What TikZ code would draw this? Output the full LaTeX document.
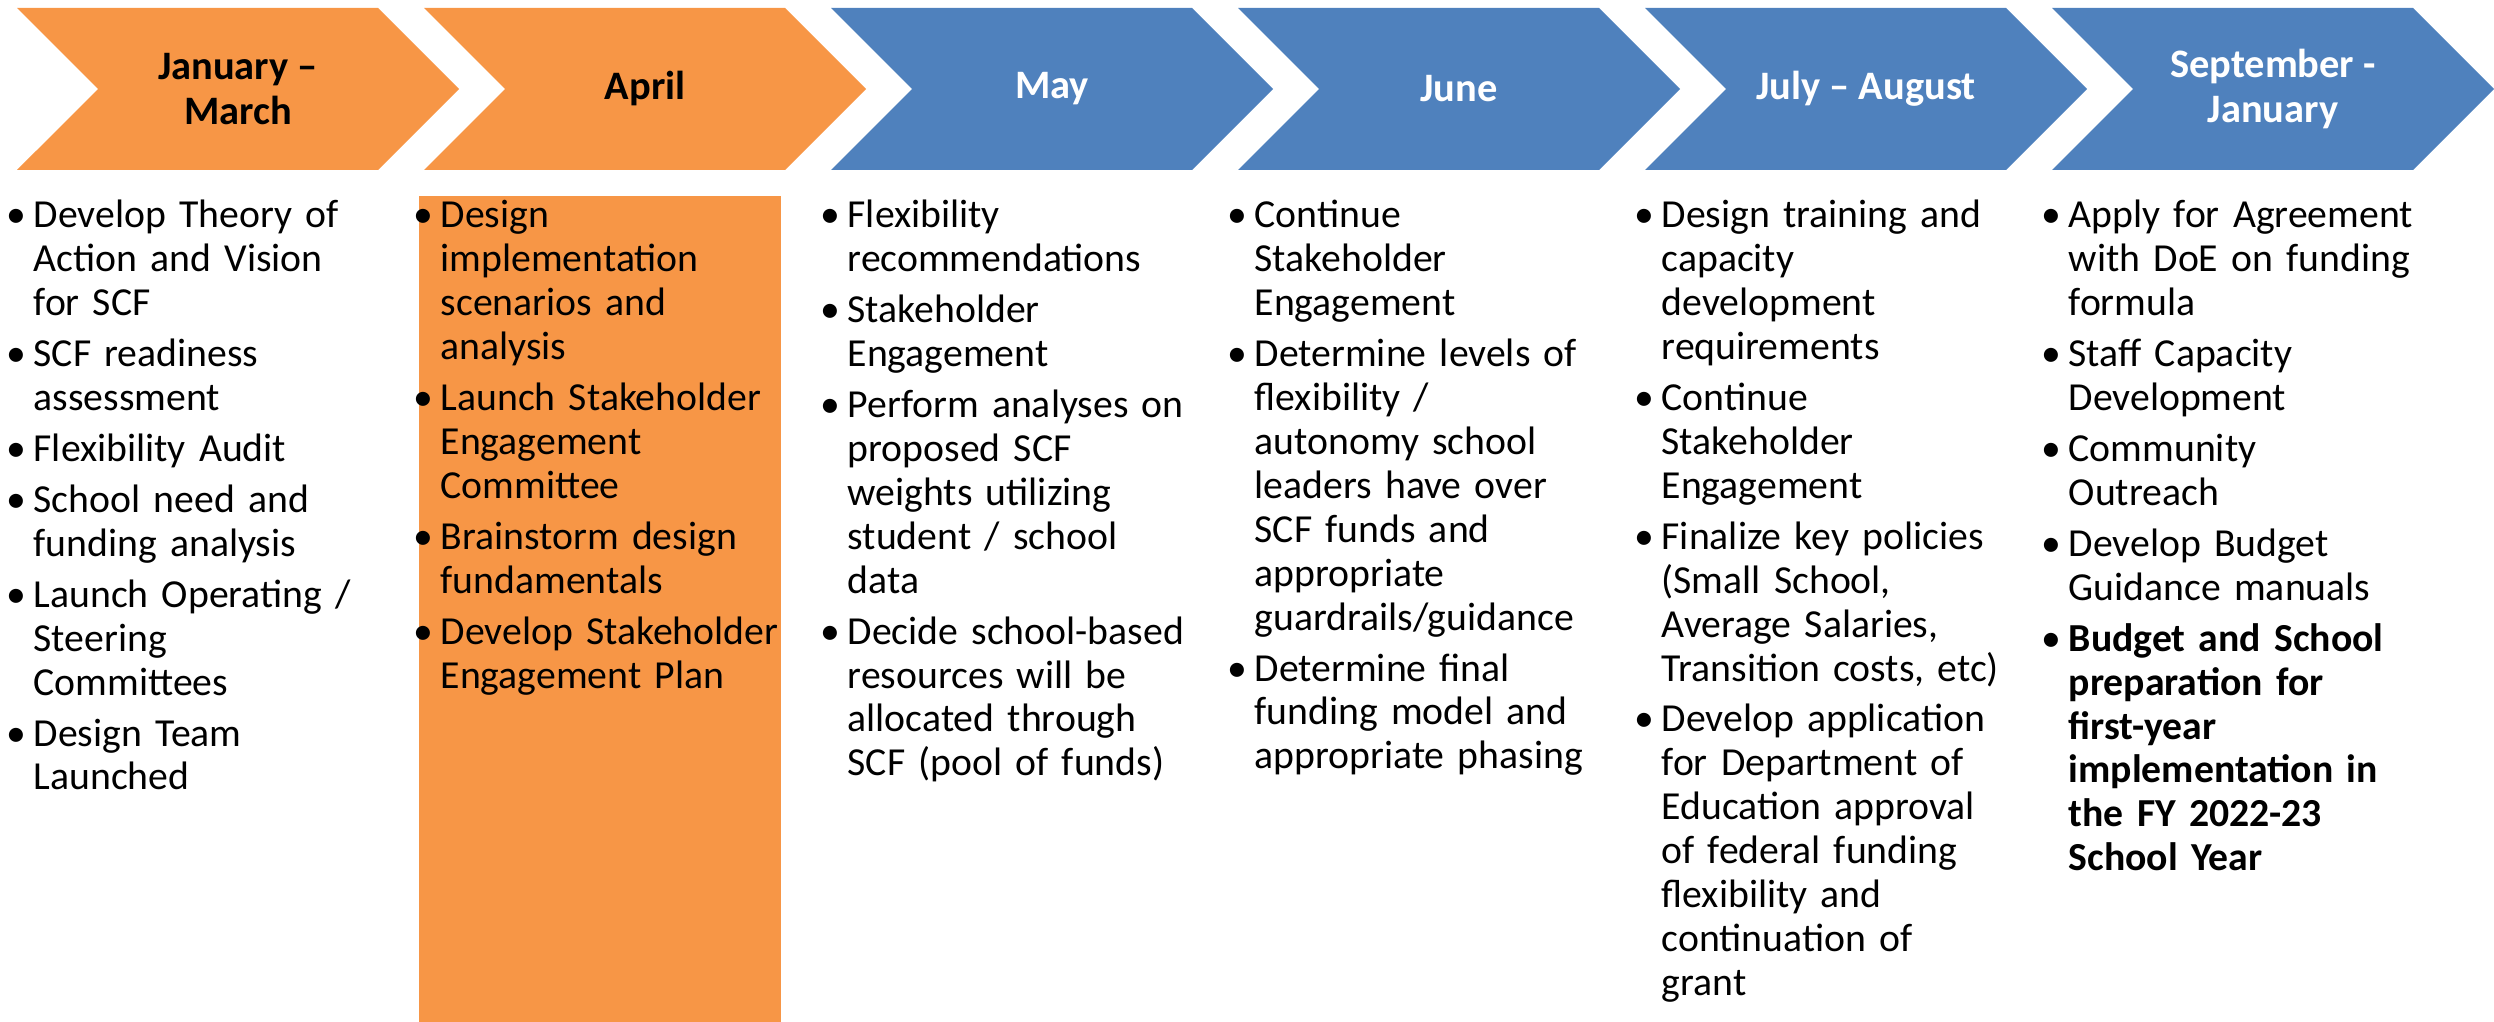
\documentclass[tikz,border=0pt]{standalone}
\usepackage{fontspec}
\setmainfont{Carlito}
\usepackage{enumitem}
\usetikzlibrary{shapes.symbols}
\definecolor{chevorange}{HTML}{F79646}
\definecolor{chevblue}{HTML}{4F81BD}
\setlist[itemize]{label=\textbullet, leftmargin=0.2cm, labelsep=0.07cm, itemsep=2pt, topsep=0pt, parsep=0pt, partopsep=0pt}

\begin{document}
\begin{tikzpicture}[
  month/.style={signal, signal from=west, signal to=east, signal pointer angle=90,
    minimum width=4.42cm, minimum height=1.62cm, inner sep=0pt, align=center,
    font=\fontsize{11.5}{13}\selectfont\bfseries},
  tasks/.style={anchor=north west, inner sep=0pt, text width=4.0cm,
    font=\fontsize{11.3}{12.5}\selectfont}
]
\useasboundingbox (0,0) rectangle (24.94,-10.22);
% month chevrons
\node[month, fill=chevorange] (jan) at (2.38,-0.89) {January --\\March};
\node[month, fill=chevorange] (apr) at (6.45,-0.89) {April};
\node[month, fill=chevblue, text=white] (may) at (10.52,-0.89) {May};
\node[month, fill=chevblue, text=white] (jun) at (14.59,-0.89) {June};
\node[month, fill=chevblue, text=white] (jul) at (18.66,-0.89) {July -- August};
\node[month, fill=chevblue, text=white] (sep) at (22.73,-0.89) {September -\\January};
% highlight behind April
\node[fill=chevorange, anchor=north west, inner sep=0pt, minimum width=3.62cm, minimum height=8.27cm] (aprbg) at (4.18,-1.95) {};
% task lists
\node[tasks] (janlist) at (0.13,-1.83) {\begin{itemize}
  \item Develop Theory of\\Action and Vision\\for SCF
  \item SCF readiness\\assessment
  \item Flexibility Audit
  \item School need and\\funding analysis
  \item Launch Operating /\\Steering\\Committees
  \item Design Team\\Launched
\end{itemize}};
\node[tasks] (aprlist) at (4.20,-1.83) {\begin{itemize}
  \item Design\\implementation\\scenarios and\\analysis
  \item Launch Stakeholder\\Engagement\\Committee
  \item Brainstorm design\\fundamentals
  \item Develop Stakeholder\\Engagement Plan
\end{itemize}};
\node[tasks] (maylist) at (8.27,-1.83) {\begin{itemize}
  \item Flexibility\\recommendations
  \item Stakeholder\\Engagement
  \item Perform analyses on\\proposed SCF\\weights utilizing\\student / school\\data
  \item Decide school-based\\resources will be\\allocated through\\SCF (pool of funds)
\end{itemize}};
\node[tasks] (junlist) at (12.34,-1.83) {\begin{itemize}
  \item Continue\\Stakeholder\\Engagement
  \item Determine levels of\\flexibility /\\autonomy school\\leaders have over\\SCF funds and\\appropriate\\guardrails/guidance
  \item Determine final\\funding model and\\appropriate phasing
\end{itemize}};
\node[tasks] (jullist) at (16.41,-1.83) {\begin{itemize}
  \item Design training and\\capacity\\development\\requirements
  \item Continue\\Stakeholder\\Engagement
  \item Finalize key policies\\(Small School,\\Average Salaries,\\Transition costs, etc)
  \item Develop application\\for Department of\\Education approval\\of federal funding\\flexibility and\\continuation of\\grant
\end{itemize}};
\node[tasks] (seplist) at (20.48,-1.83) {\begin{itemize}
  \item Apply for Agreement\\with DoE on funding\\formula
  \item Staff Capacity\\Development
  \item Community\\Outreach
  \item Develop Budget\\Guidance manuals
  \item {\bfseries Budget and School\\preparation for\\first-year\\implementation in\\the FY 2022-23\\School Year}
\end{itemize}};
\end{tikzpicture}
\end{document}
